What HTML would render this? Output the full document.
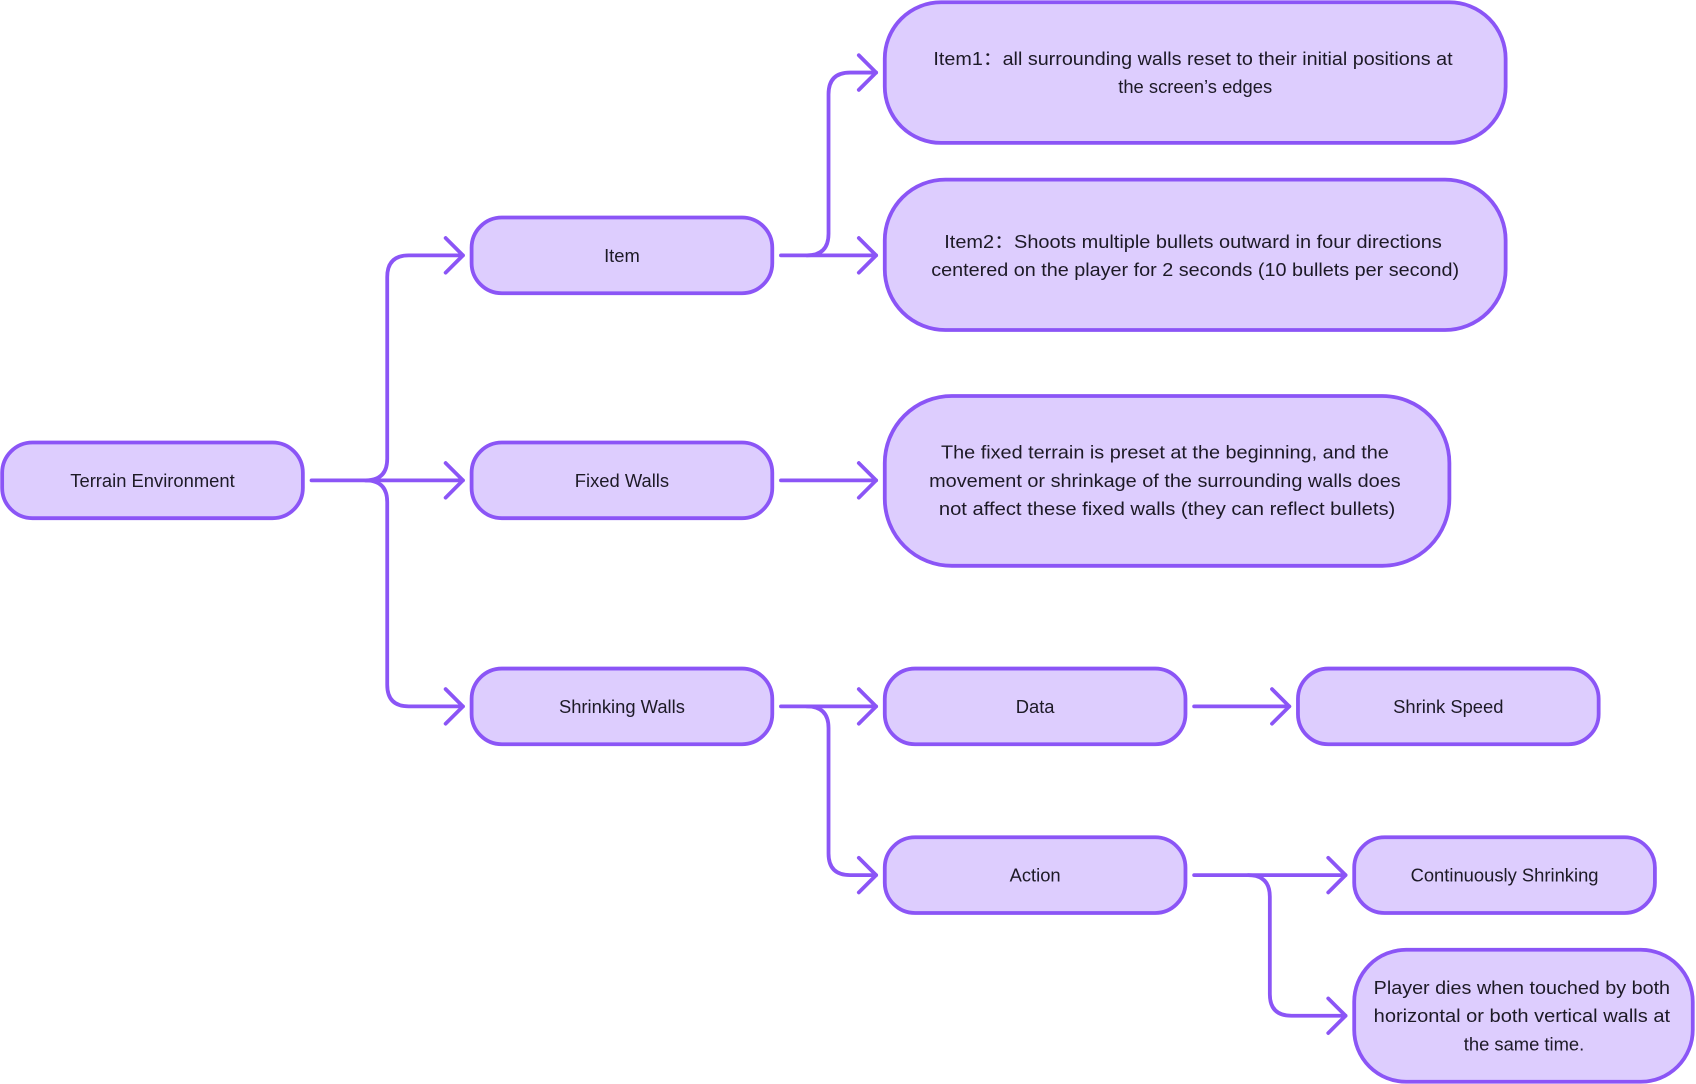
<!DOCTYPE html>
<html><head><meta charset="utf-8"><style>
html,body{margin:0;padding:0;background:#fff;}
svg{display:block;}
text{font-family:"Liberation Sans","Noto Sans CJK SC",sans-serif;font-size:17px;fill:#1d1a26;text-anchor:middle;dominant-baseline:central;}
.b{fill:#ddcdfe;stroke:#8b55f6;stroke-width:3.5;}
.c{fill:none;stroke:#8b55f6;stroke-width:3.5;stroke-linecap:round;stroke-linejoin:round;}
</style></head><body>
<svg width="1696" height="1084" viewBox="0 0 1568 1002" xmlns="http://www.w3.org/2000/svg">
<!-- connectors -->
<path class="c" d="M288 444 H338 Q358 444 358 424 V256 Q358 236 378 236 H428"/>
<path class="c" d="M338 444 H428"/>
<path class="c" d="M338 444 Q358 444 358 464 V633 Q358 653 378 653 H428"/>
<path class="c" d="M412 220 L428 236 L412 252"/>
<path class="c" d="M412 428 L428 444 L412 460"/>
<path class="c" d="M412 637 L428 653 L412 669"/>

<path class="c" d="M722 236 H810"/>
<path class="c" d="M746 236 Q766 236 766 216 V87 Q766 67 786 67 H810"/>
<path class="c" d="M794 220 L810 236 L794 252"/>
<path class="c" d="M794 51 L810 67 L794 83"/>

<path class="c" d="M722 444 H810"/>
<path class="c" d="M794 428 L810 444 L794 460"/>

<path class="c" d="M722 653 H810"/>
<path class="c" d="M746 653 Q766 653 766 673 V789 Q766 809 786 809 H810"/>
<path class="c" d="M794 637 L810 653 L794 669"/>
<path class="c" d="M794 793 L810 809 L794 825"/>

<path class="c" d="M1104 653 H1192"/>
<path class="c" d="M1176 637 L1192 653 L1176 669"/>

<path class="c" d="M1104 809 H1244"/>
<path class="c" d="M1154 809 Q1174 809 1174 829 V919 Q1174 939 1194 939 H1244"/>
<path class="c" d="M1228 793 L1244 809 L1228 825"/>
<path class="c" d="M1228 923 L1244 939 L1228 955"/>

<!-- boxes -->
<rect class="b" x="2" y="409" width="278" height="70" rx="28"/>
<text x="141" y="444">Terrain Environment</text>
<rect class="b" x="436" y="201" width="278" height="70" rx="28"/>
<text x="575" y="236">Item</text>
<rect class="b" x="436" y="409" width="278" height="70" rx="28"/>
<text x="575" y="444">Fixed Walls</text>
<rect class="b" x="436" y="618" width="278" height="70" rx="28"/>
<text x="575" y="653">Shrinking Walls</text>

<rect class="b" x="818" y="2" width="574" height="130" rx="52"/>
<text x="1103" y="54" textLength="480" lengthAdjust="spacingAndGlyphs">Item1：all surrounding walls reset to their initial positions at</text>
<text x="1105" y="80">the screen’s edges</text>

<rect class="b" x="818" y="166" width="574" height="139" rx="56"/>
<text x="1103" y="223" textLength="460" lengthAdjust="spacingAndGlyphs">Item2：Shoots multiple bullets outward in four directions</text>
<text x="1105" y="249" textLength="488" lengthAdjust="spacingAndGlyphs">centered on the player for 2 seconds (10 bullets per second)</text>

<rect class="b" x="818" y="366" width="522" height="157" rx="62"/>
<text x="1077" y="418" textLength="414" lengthAdjust="spacingAndGlyphs">The fixed terrain is preset at the beginning, and the</text>
<text x="1077" y="444" textLength="436" lengthAdjust="spacingAndGlyphs">movement or shrinkage of the surrounding walls does</text>
<text x="1079" y="470" textLength="422" lengthAdjust="spacingAndGlyphs">not affect these fixed walls (they can reflect bullets)</text>

<rect class="b" x="818" y="618" width="278" height="70" rx="28"/>
<text x="957" y="653">Data</text>
<rect class="b" x="1200" y="618" width="278" height="70" rx="28"/>
<text x="1339" y="653">Shrink Speed</text>
<rect class="b" x="818" y="774" width="278" height="70" rx="28"/>
<text x="957" y="809">Action</text>
<rect class="b" x="1252" y="774" width="278" height="70" rx="28"/>
<text x="1391" y="809">Continuously Shrinking</text>

<rect class="b" x="1252" y="878" width="313" height="122" rx="48"/>
<text x="1407" y="913" textLength="274" lengthAdjust="spacingAndGlyphs">Player dies when touched by both</text>
<text x="1407" y="939" textLength="274" lengthAdjust="spacingAndGlyphs">horizontal or both vertical walls at</text>
<text x="1409" y="965">the same time.</text>
</svg>
</body></html>
